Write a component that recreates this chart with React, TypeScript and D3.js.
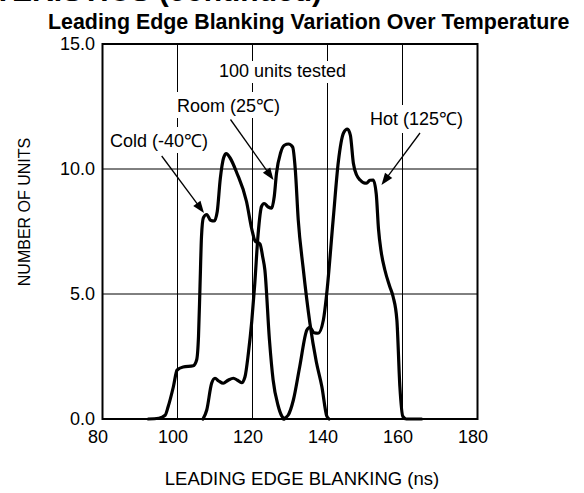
import React from "react";
import * as d3 from "d3";

const xTicks = [80, 100, 120, 140, 160, 180];
const yTicks = [0, 5, 10, 15];
const yTickLabels = ["0.0", "5.0", "10.0", "15.0"];

const coldData: [number, number][] = [
  [92.2, 0], [95, 0.03], [96.7, 0.15], [97.5, 0.49], [98.9, 1.29], [99.9, 1.96], [101.5, 2.08],
  [104.2, 2.13], [105.1, 2.36], [105.6, 3.3], [106, 5.3], [106.4, 7.3], [106.9, 8.05], [107.8, 8.18],
  [108.8, 7.95], [109.8, 7.92], [110.6, 8.3], [111.4, 9.6], [112.3, 10.45], [113, 10.62], [114, 10.45],
  [115.8, 9.85], [118.4, 8.7], [119.8, 7.6], [120.7, 7.12], [122, 7.0], [122.7, 6.5], [123.3, 5.96],
  [124.5, 3.2], [125.5, 1.56], [126.8, 0.55], [127.8, 0.12], [128.5, 0],
];

const roomData: [number, number][] = [
  [106.8, 0], [107.8, 0.36], [109.1, 1.43], [110, 1.63], [111, 1.52], [112.2, 1.43], [113.5, 1.55],
  [114.9, 1.63], [116, 1.55], [117.1, 1.45], [118, 1.69], [118.9, 2.63], [119.8, 3.9], [120.6, 5.4],
  [121.5, 7.4], [122.4, 8.5], [123.1, 8.62], [124.2, 8.48], [125.1, 8.43], [125.8, 8.9], [126.4, 9.83],
  [127.5, 10.65], [128.5, 10.95], [129.6, 11.0], [130.7, 10.88], [131.4, 10.0], [132.2, 7.96],
  [133.5, 6.05], [135.3, 3.84], [137, 2.3], [138.5, 1.29], [139.8, 0.12], [140.4, 0],
];

const hotData: [number, number][] = [
  [128.2, 0], [129.5, 0.15], [130.9, 0.76], [132.6, 2.1], [134.5, 3.56], [135.3, 3.67], [136.4, 3.45],
  [137.5, 3.43], [138.9, 3.96], [139.8, 5.03], [141.5, 7.96], [142.9, 10.3], [144.3, 11.45],
  [145.3, 11.6], [146.1, 11.35], [146.9, 10.23], [147.8, 9.75], [148.7, 9.56], [149.6, 9.45],
  [150.4, 9.43], [151.3, 9.55], [152.2, 9.56], [153.0, 9.0], [153.6, 7.6], [154.3, 6.7], [155.3, 5.96],
  [156.6, 5.3], [157.5, 4.89], [158.5, 3.96], [159.3, 1.29], [160.1, 0.1], [161, 0], [165.1, 0],
];

const W = 584;
const H = 493;
const FONT = "'Liberation Sans', Arial, Helvetica, sans-serif";

export default function App() {
  const x = d3.scaleLinear().domain([80, 180]).range([102.5, 477.5]);
  const y = d3.scaleLinear().domain([0, 15]).range([419, 44]);
  const line = d3
    .line<[number, number]>()
    .x((d) => x(d[0]))
    .y((d) => y(d[1]))
    .curve(d3.curveMonotoneX);

  const series = [coldData, roomData, hotData];

  const labels = [
    { text: "100 units tested", x: 219, y: 77, box: [214, 61, 145, 22] },
    { text: "Room (25\u2103)", x: 177, y: 112, box: [172, 92, 115, 26] },
    { text: "Cold (-40\u2103)", x: 110, y: 147, box: [106, 127, 110, 26] },
    { text: "Hot (125\u2103)", x: 370, y: 125, box: [365, 105, 102, 28] },
  ];

  const arrows = [
    { x1: 161.7, y1: 156, x2: 204, y2: 213 },
    { x1: 230.5, y1: 119.5, x2: 273.5, y2: 180 },
    { x1: 420, y1: 133, x2: 381.5, y2: 185 },
  ];

  const arrowHead = (a: { x1: number; y1: number; x2: number; y2: number }) => {
    const ang = Math.atan2(a.y2 - a.y1, a.x2 - a.x1);
    const L = 12;
    const Wd = 4.5;
    const bx = a.x2 - L * Math.cos(ang);
    const by = a.y2 - L * Math.sin(ang);
    const px = -Math.sin(ang) * Wd;
    const py = Math.cos(ang) * Wd;
    return `M${a.x2},${a.y2}L${bx + px},${by + py}L${bx - px},${by - py}Z`;
  };

  const arrowBase = (a: { x1: number; y1: number; x2: number; y2: number }) => {
    const ang = Math.atan2(a.y2 - a.y1, a.x2 - a.x1);
    return [a.x2 - 10 * Math.cos(ang), a.y2 - 10 * Math.sin(ang)];
  };

  return (
    <svg
      width={W}
      height={H}
      viewBox={`0 0 ${W} ${H}`}
      style={{ position: "absolute", left: 0, top: 0, background: "#fff" }}
      fontFamily={FONT}
    >
      <rect x={0} y={0} width={W} height={H} fill="#fff" />
      {/* cut-off heading at the very top */}
      <text x={322} y={0.5} textAnchor="end" fontSize={30} fontWeight="bold" fill="#000">
        TYPICAL CHARACTERISTICS (continued)
      </text>
      <text x={48} y={29} fontSize={21.4} fontWeight="bold" fill="#000">
        Leading Edge Blanking Variation Over Temperature
      </text>

      {/* grid */}
      {xTicks.slice(1, -1).map((t) => (
        <line key={"gx" + t} x1={x(t)} x2={x(t)} y1={y(15)} y2={y(0)} stroke="#000" strokeWidth={1} />
      ))}
      {yTicks.slice(1, -1).map((t) => (
        <line key={"gy" + t} x1={x(80)} x2={x(180)} y1={y(t)} y2={y(t)} stroke="#000" strokeWidth={1} />
      ))}

      {/* label boxes + labels */}
      {labels.map((l) => (
        <g key={l.text}>
          <rect x={l.box[0]} y={l.box[1]} width={l.box[2]} height={l.box[3]} fill="#fff" />
          <text x={l.x} y={l.y} fontSize={18} fill="#000">
            {l.text}
          </text>
        </g>
      ))}

      {/* arrows */}
      {arrows.map((a, i) => {
        const [bx, by] = arrowBase(a);
        return (
          <g key={"a" + i}>
            <line x1={a.x1} y1={a.y1} x2={bx} y2={by} stroke="#000" strokeWidth={1.3} />
            <path d={arrowHead(a)} fill="#000" />
          </g>
        );
      })}

      {/* curves */}
      {series.map((s, i) => (
        <path key={"s" + i} d={line(s) || ""} fill="none" stroke="#000" strokeWidth={3.2} strokeLinejoin="round" strokeLinecap="round" />
      ))}

      {/* frame */}
      <rect x={x(80)} y={y(15)} width={x(180) - x(80)} height={y(0) - y(15)} fill="none" stroke="#000" strokeWidth={2} />

      {/* y tick labels */}
      {yTicks.map((t, i) => (
        <text key={"yl" + t} x={95} y={y(t)} dy="0.35em" textAnchor="end" fontSize={18} fill="#000">
          {yTickLabels[i]}
        </text>
      ))}
      {/* x tick labels */}
      {xTicks.map((t) => (
        <text key={"xl" + t} x={x(t) - 4.5} y={443} textAnchor="middle" fontSize={18} fill="#000">
          {t}
        </text>
      ))}

      <text x={302} y={485} textAnchor="middle" fontSize={18.5} fill="#000">
        LEADING EDGE BLANKING (ns)
      </text>
      <text transform="translate(30,212) rotate(-90)" textAnchor="middle" fontSize={16} fill="#000">
        NUMBER OF UNITS
      </text>
    </svg>
  );
}
